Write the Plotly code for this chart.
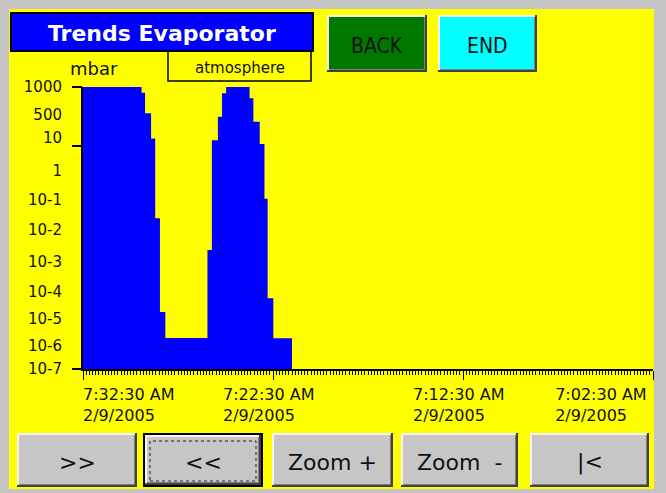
import plotly.graph_objects as go

# ---------------- data ----------------
day = "2005-02-09"
# step edges (screen order, newest -> oldest) and pressure in mbar of each step
times = ["07:32:30", "07:29:25", "07:29:14", "07:28:55", "07:28:42", "07:28:27",
         "07:28:10", "07:25:57", "07:25:43", "07:25:24", "07:25:11", "07:24:58",
         "07:23:44", "07:23:32", "07:23:12", "07:22:57", "07:22:47", "07:22:29",
         "07:21:30"]
pressure_mbar = [1000, 630, 117, 15, 0.022, 1.05e-5, 1.26e-6, 1.66e-3, 13, 89,
                 600, 1000, 400, 59, 9.5, 0.11, 3.2e-5, 1.23e-6, 1.23e-6]

y_tick_labels = ["1000", "500", "10", "1", "10-1", "10-2", "10-3", "10-4",
                 "10-5", "10-6", "10-7"]
y_label_positions = [1000, 108, 15.8, 1.07, 0.1, 8.5e-3, 6.5e-4, 5.5e-5,
                     6.3e-6, 6.9e-7, 1e-7]
y_tick_marks = [1000, 8.1, 1e-7]

x_major_ticks = ["07:32:30", "07:22:30", "07:12:30", "07:02:30"]
x_tick_labels = ["7:32:30 AM<br>2/9/2005", "7:22:30 AM<br>2/9/2005",
                 "7:12:30 AM<br>2/9/2005", "7:02:30 AM<br>2/9/2005"]
x_label_anchor = ["07:32:30", "07:25:08", "07:15:08", "07:07:39"]

title_text = "Trends Evaporator"
unit_text = "mbar"
state_text = "atmosphere"

# ---------------- layout helpers ----------------
W, H = 666, 493
L, R, T, B = 83, 13, 87, 124
PW, PH = W - L - R, H - T - B
FONT = "DejaVu Sans"


def px(x):
    return (x - L) / PW


def py(y):
    return (H - B - y) / PH


def d(t):
    return f"{day} {t}"


shapes = []
annotations = []


def rect(x0, y0, x1, y1, fill=None, line=None, lw=0, dash=None, layer="above"):
    s = dict(type="rect", xref="paper", yref="paper",
             x0=px(x0), x1=px(x1), y0=py(y1), y1=py(y0), layer=layer,
             line=dict(width=lw, color=line or "rgba(0,0,0,0)"))
    if dash:
        s["line"]["dash"] = dash
    if fill:
        s["fillcolor"] = fill
    shapes.append(s)


def text(x, y, s, size, color="#111111", family=FONT):
    annotations.append(dict(xref="paper", yref="paper", x=px(x), y=py(y), text=s,
                            showarrow=False, xanchor="center", yanchor="middle",
                            font=dict(family=family, size=size, color=color)))


def button(x0, y0, x1, y1, fill, label, size, family=FONT, focused=False):
    if focused:
        rect(x0, y0, x1, y1, fill="#000000")
        x0, y0, x1, y1 = x0 + 2, y0 + 2, x1 - 2, y1 - 2
    rect(x0, y0, x1, y1, fill="#404040")
    rect(x0, y0, x1 - 2, y1 - 2, fill="#F4F4F4")
    rect(x0 + 2, y0 + 2, x1 - 2, y1 - 2, fill="#808080")
    rect(x0 + 2, y0 + 2, x1 - 3, y1 - 3, fill=fill)
    if focused:
        rect(x0 + 5, y0 + 6, x1 - 5, y1 - 4, line="#202020", lw=1, dash="dot")
    text((x0 + x1) / 2, (y0 + y1) / 2 + 2, label, size, family=family)


# grey frame around the yellow panel
FRAME = "#C4C4C4"
rect(0, 0, W, 9, fill=FRAME)
rect(0, 489, W, H, fill=FRAME)
rect(0, 0, 9, H, fill=FRAME)
rect(654, 0, W, H, fill=FRAME)
# title box
rect(11, 13, 313, 51, fill="#0000FF", line="#000000", lw=2)
text(162, 33, f"<b>{title_text}</b>", 22, color="#FFFFFF")
# state box
rect(168, 51, 311, 81, line="#000000", lw=1.5)
text(240, 68, state_text, 15)
text(94, 68, unit_text, 18)

NARROW = "Liberation Sans Narrow, DejaVu Sans Condensed, Liberation Sans, sans-serif"
button(327, 15, 427, 72, "#007800", "BACK", 21, family=NARROW)
button(438, 15, 537, 72, "#00FFFF", "END", 21, family=NARROW)

GRAY = "#C6C6C6"
button(17, 433, 137, 487, GRAY, "&gt;&gt;", 22)
button(143, 433, 263, 487, GRAY, "&lt;&lt;", 22, focused=True)
button(272, 433, 393, 487, GRAY, "Zoom +", 22)
button(401, 433, 518, 487, GRAY, "Zoom\u00a0\u00a0-", 22)
button(530, 433, 649, 487, GRAY, "|&lt;", 22)

# ---------------- figure ----------------
xr = [d("07:32:30"), d("07:02:30")]
yr = [-7, 3]

fig = go.Figure()
fig.add_trace(go.Scatter(
    x=[d(t) for t in times], y=pressure_mbar, mode="lines",
    line=dict(shape="hv", width=0, color="#0000FF"),
    fill="tozeroy", fillcolor="#0000FF", hoverinfo="skip", showlegend=False))
# carriers for the overlay axes (tick labels / tick marks)
fig.add_trace(go.Scatter(x=[d(x_label_anchor[0])], y=[None], xaxis="x2", yaxis="y2",
                         mode="markers", marker=dict(opacity=0), hoverinfo="skip",
                         showlegend=False))

fig.update_layout(
    width=W, height=H, autosize=False,
    margin=dict(l=L, r=R, t=T, b=B, pad=0),
    paper_bgcolor="#FFFF00", plot_bgcolor="#FFFF00",
    showlegend=False,
    font=dict(family=FONT, size=15, color="#111111"),
    xaxis=dict(type="date", range=xr, showgrid=False, zeroline=False,
               showline=True, linecolor="#000000", linewidth=2,
               tickmode="array", tickvals=[d(t) for t in x_major_ticks],
               ticks="outside", ticklen=9, tickwidth=1, tickcolor="#000000",
               showticklabels=False,
               minor=dict(ticks="outside", ticklen=4, tickwidth=1,
                          tickcolor="#000000", dtick=10000,
                          tick0=d("07:02:30"), showgrid=False)),
    xaxis2=dict(type="date", range=xr, overlaying="x", anchor="y", side="bottom",
                showgrid=False, zeroline=False, showline=False, ticks="",
                tickmode="array", tickvals=[d(t) for t in x_label_anchor],
                ticktext=x_tick_labels, ticklabelposition="outside right",
                ticklabelstandoff=14,
                tickfont=dict(family=FONT, size=16, color="#111111")),
    yaxis=dict(type="log", range=yr, showgrid=False, zeroline=False,
               showline=True, linecolor="#000000", linewidth=2,
               tickmode="array", tickvals=y_label_positions, ticktext=y_tick_labels,
               ticks="", ticklabelstandoff=16,
               tickfont=dict(family=FONT, size=15, color="#111111")),
    yaxis2=dict(type="log", range=yr, overlaying="y", anchor="x", side="left",
                showgrid=False, zeroline=False, showline=False,
                tickmode="array", tickvals=y_tick_marks, ticks="outside",
                ticklen=10, tickwidth=2, tickcolor="#000000",
                showticklabels=False),
    shapes=shapes, annotations=annotations,
)

fig.write_html("out.html", config={"displayModeBar": False},
               post_script="document.body.style.margin='0';document.body.style.overflow='hidden';")
